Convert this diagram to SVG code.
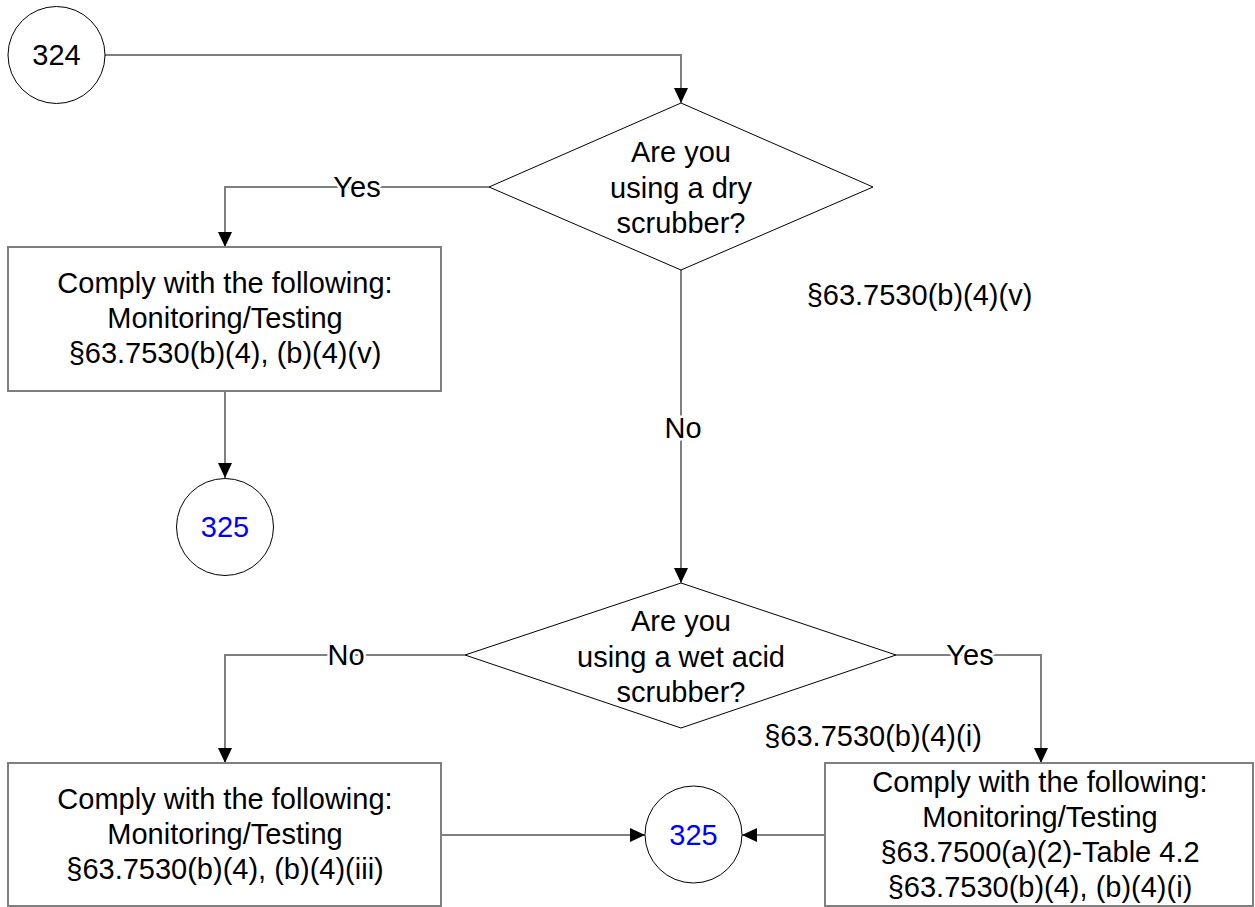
<svg xmlns="http://www.w3.org/2000/svg" width="1255" height="907" viewBox="0 0 1255 907">
<style>
text{font-family:"Liberation Sans",Arial,sans-serif;font-size:29px;fill:#000;text-anchor:middle}
.t325{fill:#0000ff}
.term{fill:#fff;stroke:#000;stroke-width:1}
.dec{fill:#fff;stroke:#000;stroke-width:1}
.box{fill:#fff;stroke:#7f7f7f;stroke-width:2}
.conn{fill:none;stroke:#7f7f7f;stroke-width:2}
.lbl{paint-order:stroke;stroke:#fff;stroke-width:5px;stroke-linejoin:round}
</style>
<defs>
<marker id="arr" markerUnits="userSpaceOnUse" markerWidth="16" markerHeight="14" viewBox="0 0 16 14" refX="15" refY="7" orient="auto">
<path d="M0,0 L15,7 L0,14 Z" fill="#000"/>
</marker>
</defs>
<rect width="1255" height="907" fill="#fff"/>
<g id="connectors">
<path class="conn" d="M105,55 H681 V103" marker-end="url(#arr)"/>
<path class="conn" d="M489,187 H225 V247" marker-end="url(#arr)"/>
<path class="conn" d="M225,391 V478" marker-end="url(#arr)"/>
<path class="conn" d="M681,270 V583" marker-end="url(#arr)"/>
<path class="conn" d="M465,655 H225 V763" marker-end="url(#arr)"/>
<path class="conn" d="M896,655 H1041 V763" marker-end="url(#arr)"/>
<path class="conn" d="M441,835 H645" marker-end="url(#arr)"/>
<path class="conn" d="M825,835 H742" marker-end="url(#arr)"/>
<text class="lbl" x="357" y="197">Yes</text>
<text class="lbl" x="683" y="438">No</text>
<text class="lbl" x="346" y="665">No</text>
<text class="lbl" x="970" y="665">Yes</text>
</g>
<g id="n324">
<circle class="term" cx="56.5" cy="55" r="48.5"/>
<text x="56.5" y="65">324</text>
</g>
<g id="d1">
<polygon class="dec" points="681,103 873,187 681,270 489,187"/>
<text x="681" y="162">Are you</text>
<text x="681" y="197.5">using a dry</text>
<text x="681" y="233">scrubber?</text>
</g>
<g id="box1">
<rect class="box" x="8" y="247" width="433" height="144"/>
<text x="225" y="293">Comply with the following:</text>
<text x="225" y="328">Monitoring/Testing</text>
<text x="225" y="363">§63.7530(b)(4), (b)(4)(v)</text>
</g>
<g id="c325a">
<circle class="term" cx="225" cy="527" r="48.5"/>
<text class="t325" x="225" y="537">325</text>
</g>
<g id="ref1">
<text x="919.5" y="305">§63.7530(b)(4)(v)</text>
</g>
<g id="d2">
<polygon class="dec" points="681,583 896,655 681,728 465,655"/>
<text x="681" y="631">Are you</text>
<text x="681" y="666.5">using a wet acid</text>
<text x="681" y="702">scrubber?</text>
</g>
<g id="ref2">
<text x="873" y="746">§63.7530(b)(4)(i)</text>
</g>
<g id="box3">
<rect class="box" x="8" y="763" width="433" height="143"/>
<text x="225" y="809">Comply with the following:</text>
<text x="225" y="844">Monitoring/Testing</text>
<text x="225" y="879">§63.7530(b)(4), (b)(4)(iii)</text>
</g>
<g id="box4">
<rect class="box" x="825" y="763" width="428" height="143"/>
<text x="1040" y="792">Comply with the following:</text>
<text x="1040" y="827">Monitoring/Testing</text>
<text x="1040" y="862">§63.7500(a)(2)-Table 4.2</text>
<text x="1040" y="897">§63.7530(b)(4), (b)(4)(i)</text>
</g>
<g id="c325b">
<circle class="term" cx="693.5" cy="834.5" r="48.5"/>
<text class="t325" x="693.5" y="845">325</text>
</g>
</svg>
